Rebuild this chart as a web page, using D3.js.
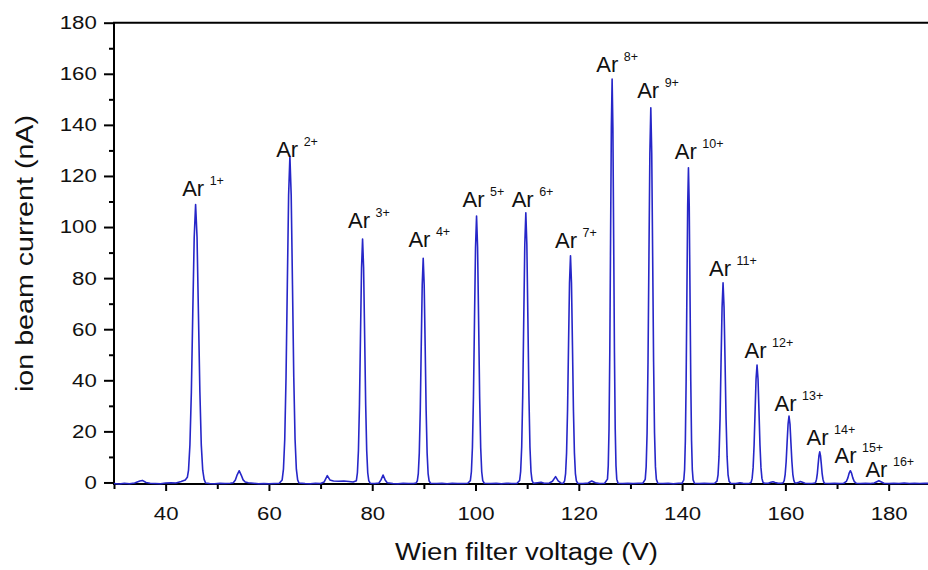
<!DOCTYPE html>
<html>
<head>
<meta charset="utf-8">
<script src="https://cdn.jsdelivr.net/npm/d3@7"></script>
<style>
  body { margin: 0; background: #fff; }
  svg { display: block; font-family: "Liberation Sans", Arial, sans-serif; }
</style>
</head>
<body>
<svg id="chart" width="928" height="570"></svg>
<script>
// spectrum: [Wien filter voltage (V), ion beam current (nA)]
const spectrum = [
  [30,-0.4],[31,-0.6],[32,-0.3],[33,-0.5],[34,-0.2],[35,0.6],[35.5,0.8],[36.2,0.0],[37,-0.3],[38,-0.4],[39,-0.5],[40,-0.2],[41,-0.1],[42,-0.2],[43,0.4],[43.8,1.0],[44.2,2.0],
  [44.43,4.8],[44.7,14.7],[44.98,35.4],[45.25,66.0],[45.53,96.0],[45.8,108.8],[46.08,96.0],[46.35,66.0],[46.63,35.4],[46.9,14.7],[47.18,4.8],[47.45,1.2],[47.73,-0.2],
  [48.5,-0.4],[49.5,-0.5],[50.5,-0.3],[51.5,-0.4],[52.5,-0.3],[53.1,-0.1],[53.5,1.0],[53.85,3.0],[54.25,4.6],[54.65,2.8],[55.0,1.0],[55.4,0.2],[56,-0.1],[57,-0.3],[58,-0.5],[59,-0.4],[60,-0.5],[61,-0.4],[62,-0.3],
  [62.56,1.0],[62.81,5.2],[63.06,16.8],[63.31,41.1],[63.56,77.3],[63.81,112.5],[64.06,127.6],[64.31,112.5],[64.56,77.3],[64.81,41.1],[65.06,16.8],[65.31,5.2],[65.56,1.0],[65.81,-0.2],
  [67,-0.4],[68,-0.5],[69,-0.3],[70,-0.4],[70.7,0.2],[71.3,2.65],[71.8,1.0],[72.5,0.6],[73.5,0.5],[74.5,0.6],[75.5,0.4],[76.3,0.2],
  [76.93,0.7],[77.13,3.8],[77.33,12.5],[77.53,30.6],[77.73,57.8],[77.93,84.0],[78.13,95.3],[78.33,84.0],[78.53,57.8],[78.73,30.6],[78.93,12.5],[79.13,3.8],[79.33,0.7],[79.6,-0.3],
  [80.5,-0.4],[81.3,-0.2],[81.7,1.0],[82.1,2.9],[82.5,1.0],[82.9,-0.1],[84,-0.4],[85,-0.5],[86,-0.3],[87,-0.4],[88,-0.4],[88.5,-0.2],
  [88.73,0.6],[88.92,3.5],[89.11,11.5],[89.3,28.1],[89.49,53.3],[89.68,77.4],[89.87,87.8],[90.06,77.4],[90.25,53.3],[90.44,28.1],[90.63,11.5],[90.82,3.5],[91.01,0.6],[91.3,-0.3],
  [92.5,-0.4],[93.5,-0.3],[94.5,-0.5],[95.5,-0.3],[96.5,-0.4],[97.5,-0.4],[98.5,-0.3],
  [99.0,0.7],[99.2,4.2],[99.4,13.7],[99.6,33.5],[99.8,63.3],[100.0,92.0],[100.2,104.3],[100.4,92.0],[100.6,63.3],[100.8,33.5],[101.0,13.7],[101.2,4.2],[101.4,0.7],[101.7,-0.3],
  [103,-0.4],[104,-0.3],[105,-0.5],[106,-0.3],[107,-0.4],[108,-0.4],
  [108.54,0.8],[108.74,4.3],[108.94,13.9],[109.14,33.9],[109.34,64.1],[109.54,93.1],[109.74,105.6],[109.94,93.1],[110.14,64.1],[110.34,33.9],[110.54,13.9],[110.74,4.3],[110.94,0.8],[111.2,-0.3],
  [112,-0.1],[112.7,0.1],[113.3,-0.3],[114.3,-0.2],[114.9,0.5],[115.5,2.3],[116.0,0.6],[116.5,-0.2],[117.0,-0.3],
  [117.25,0.6],[117.44,3.5],[117.63,11.6],[117.82,28.4],[118.01,53.8],[118.2,78.2],[118.39,88.7],[118.58,78.2],[118.77,53.8],[118.96,28.4],[119.15,11.6],[119.34,3.5],[119.53,0.6],[119.8,-0.3],
  [120.8,-0.4],[121.8,-0.2],[122.5,0.6],[123.2,-0.1],[124,-0.4],[125,-0.3],
  [125.55,1.3],[125.7,6.5],[125.85,20.9],[126.0,50.9],[126.15,95.4],[126.3,138.9],[126.45,157.9],[126.6,138.9],[126.75,95.4],[126.9,50.9],[127.05,20.9],[127.2,6.5],[127.35,1.3],[127.6,-0.3],
  [128.5,-0.4],[129.5,-0.3],[130.5,-0.4],[131.5,-0.3],[132.4,-0.3],
  [132.86,1.2],[133.04,6.1],[133.22,19.4],[133.4,47.3],[133.58,88.6],[133.76,129.0],[133.94,146.7],[134.12,129.0],[134.3,88.6],[134.48,47.3],[134.66,19.4],[134.84,6.1],[135.02,1.2],[135.3,-0.3],
  [136.3,-0.4],[137.3,-0.3],[138.3,-0.5],[139.3,-0.3],[140.0,-0.3],
  [140.33,1.0],[140.48,5.0],[140.63,16.2],[140.78,39.6],[140.93,74.4],[141.08,108.3],[141.23,123.2],[141.38,108.3],[141.53,74.4],[141.68,39.6],[141.83,16.2],[141.98,5.0],[142.13,1.0],[142.4,-0.3],
  [143.3,-0.4],[144.3,-0.3],[145.3,-0.4],[146.3,-0.3],
  [146.76,0.5],[146.96,3.0],[147.15,10.2],[147.35,25.0],[147.54,47.1],[147.74,68.6],[147.93,78.2],[148.12,68.6],[148.32,47.1],[148.51,25.0],[148.71,10.2],[148.9,3.0],[149.1,0.5],[149.4,-0.3],
  [150.4,-0.4],[151.2,-0.1],[151.8,-0.3],[152.5,-0.4],[153.1,-0.3],
  [153.37,0.1],[153.56,1.6],[153.75,5.8],[153.94,14.6],[154.13,27.7],[154.32,40.5],[154.51,46.0],[154.7,40.5],[154.89,27.7],[155.08,14.6],[155.27,5.8],[155.46,1.6],[155.65,0.1],[155.9,-0.3],
  [156.7,-0.3],[157.2,0.1],[157.6,0.3],[158.0,0.0],[158.6,-0.3],[159.2,-0.3],
  [159.59,-0.1],[159.78,0.8],[159.96,3.2],[160.15,8.2],[160.33,15.6],[160.52,22.9],[160.7,26.0],[160.89,22.9],[161.07,15.6],[161.26,8.2],[161.44,3.2],[161.63,0.8],[161.81,-0.1],
  [162.2,-0.2],[162.6,0.1],[162.9,0.4],[163.3,0.1],[163.8,-0.3],[164.5,-0.4],[165.3,-0.3],
  [165.72,-0.2],[165.88,0.2],[166.03,1.3],[166.19,3.6],[166.34,7.1],[166.5,10.5],[166.65,12.0],[166.8,10.5],[166.96,7.1],[167.11,3.6],[167.27,1.3],[167.42,0.2],[167.6,-0.3],
  [168.5,-0.4],[169.5,-0.3],[170.5,-0.4],[171.3,-0.3],
  [171.8,0.4],[172.1,1.8],[172.35,3.7],[172.58,4.6],[172.8,3.7],[173.05,1.8],[173.35,0.3],[173.7,-0.3],
  [174.5,-0.4],[175.5,-0.3],[176.5,-0.4],[177.2,-0.2],
  [177.6,0.2],[178.1,0.7],[178.6,0.2],[179.1,-0.3],
  [180,-0.4],[181,-0.3],[182,-0.4],[183,-0.2],[184,-0.4],[185,-0.3],[186,-0.4],[187,-0.3],[188,-0.4]
];

// charge state labels, anchored (left end of "Ar", baseline) in data units
const charges = ['1+','2+','3+','4+','5+','6+','7+','8+','9+','10+','11+','12+','13+','14+','15+','16+'];
const labelVolt = [43.2, 61.4, 75.3, 87.0, 97.5, 107.0, 115.4, 123.4, 131.3, 138.6, 145.2, 152.1, 157.9, 164.1, 169.5, 175.5];
const labelAmp  = [112.3, 127.5, 99.5, 92.1, 107.9, 107.9, 91.7, 160.8, 150.4, 126.6, 80.8, 48.6, 28.1, 14.6, 7.5, 2.2];

const xMajor = [40, 60, 80, 100, 120, 140, 160, 180];
const xMinor = [30, 50, 70, 90, 110, 130, 150, 170];
const yMajor = [0, 20, 40, 60, 80, 100, 120, 140, 160, 180];
const yMinor = [10, 30, 50, 70, 90, 110, 130, 150, 170];

const xTitle = 'Wien filter voltage (V)';
const yTitle = 'ion beam current (nA)';

const plotLeft = 114, plotRight = 930, plotTop = 22.7, plotBottom = 484;

const svg = d3.select('#chart');

const x = d3.scaleLinear().domain([30, 188]).range([plotLeft, plotRight]);
const y = d3.scaleLinear().domain([-0.6, 180]).range([plotBottom, plotTop]);

// minor ticks
svg.append('g')
    .attr('transform', `translate(0,${plotBottom})`)
    .call(d3.axisBottom(x).tickValues(xMinor).tickSize(5).tickFormat(''))
    .call(g => g.select('.domain').remove());
svg.append('g')
    .attr('transform', `translate(${plotLeft},0)`)
    .call(d3.axisLeft(y).tickValues(yMinor).tickSize(5).tickFormat(''))
    .call(g => g.select('.domain').remove());

// major ticks + labels
const xAxis = svg.append('g')
    .attr('transform', `translate(0,${plotBottom})`)
    .call(d3.axisBottom(x).tickValues(xMajor).tickSize(7).tickPadding(16))
    .call(g => g.select('.domain').remove());
xAxis.selectAll('text')
    .attr('font-size', 18.5)
    .attr('font-family', '"Liberation Sans", Arial, sans-serif')
    .attr('fill', '#111')
    .attr('transform', 'scale(1.2,1)');

const yAxis = svg.append('g')
    .attr('transform', `translate(${plotLeft},0)`)
    .call(d3.axisLeft(y).tickValues(yMajor).tickSize(10))
    .call(g => g.select('.domain').remove());
yAxis.selectAll('text')
    .attr('x', -14.4)
    .attr('font-size', 18.5)
    .attr('font-family', '"Liberation Sans", Arial, sans-serif')
    .attr('fill', '#111')
    .attr('transform', 'scale(1.2,1)');

svg.selectAll('.tick line').attr('stroke', '#000').attr('stroke-width', 2);

// frame: left, bottom, top
svg.append('path')
    .attr('d', `M${plotRight},${plotTop}H${plotLeft}V${plotBottom}H${plotRight}`)
    .attr('fill', 'none')
    .attr('stroke', '#000')
    .attr('stroke-width', 2);

// the spectrum
const line = d3.line()
    .x(d => x(d[0]))
    .y(d => y(d[1]));

svg.append('path')
    .datum(spectrum)
    .attr('d', line)
    .attr('fill', 'none')
    .attr('stroke', '#2626c8')
    .attr('stroke-width', 1.6)
    .attr('stroke-linejoin', 'round');

// peak labels
const labels = svg.append('g')
    .selectAll('text')
    .data(charges)
    .join('text')
    .attr('x', (d, i) => x(labelVolt[i]))
    .attr('y', (d, i) => y(labelAmp[i]))
    .attr('fill', '#111');
labels.append('tspan')
    .attr('font-size', 22)
    .text('Ar');
labels.append('tspan')
    .attr('font-size', 12.5)
    .attr('dx', 5.5)
    .attr('dy', -11)
    .text(d => d);

// axis titles
svg.append('text')
    .attr('x', 526.5)
    .attr('y', 560)
    .attr('text-anchor', 'middle')
    .attr('font-size', 23)
    .attr('fill', '#111')
    .attr('textLength', 263)
    .attr('lengthAdjust', 'spacingAndGlyphs')
    .text(xTitle);

svg.append('text')
    .attr('transform', 'translate(33,253.5) rotate(-90)')
    .attr('text-anchor', 'middle')
    .attr('font-size', 23)
    .attr('fill', '#111')
    .attr('textLength', 277)
    .attr('lengthAdjust', 'spacingAndGlyphs')
    .text(yTitle);
</script>
</body>
</html>
